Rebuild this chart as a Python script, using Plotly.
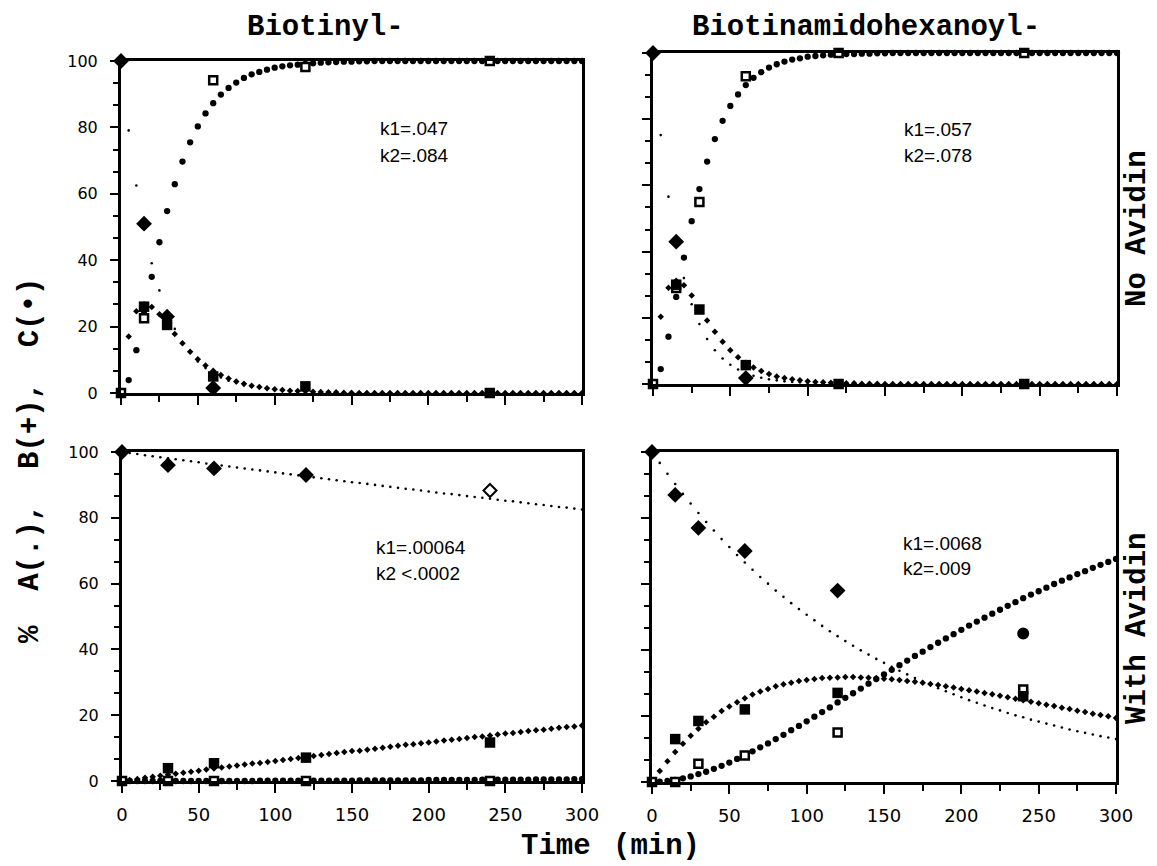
import plotly.graph_objects as go
from plotly.subplots import make_subplots

# ---------------- data ----------------
T = [0, 5, 10, 15, 20, 25, 30, 35, 40, 45, 50, 55, 60, 65, 70, 75, 80, 85, 90, 95,
     100, 105, 110, 115, 120, 125, 130, 135, 140, 145, 150, 155, 160, 165, 170, 175, 180, 185, 190, 195,
     200, 205, 210, 215, 220, 225, 230, 235, 240, 245, 250, 255, 260, 265, 270, 275, 280, 285, 290, 295, 300]

# Biotinyl-, No Avidin (fitted curves)
TL_A = [100, 79.1, 62.5, 49.4, 39.1, 30.9, 24.4, 19.3, 15.3, 12.1, 9.5, 7.5, 6.0, 4.7, 3.7, 3.0, 2.3, 1.8, 1.5, 1.2,
        0.9, 0.7, 0.6, 0.5, 0.4, 0.3, 0.2, 0.2, 0.1, 0.1, 0.1, 0, 0, 0, 0, 0, 0, 0, 0, 0,
        0, 0, 0, 0, 0, 0, 0, 0, 0, 0, 0, 0, 0, 0, 0, 0, 0, 0, 0, 0, 0]
TL_B = [0, 17.0, 24.6, 26.7, 25.9, 23.7, 20.8, 17.8, 15.0, 12.4, 10.2, 8.3, 6.7, 5.4, 4.4, 3.5, 2.8, 2.2, 1.8, 1.4,
        1.1, 0.9, 0.7, 0.6, 0.5, 0.4, 0.3, 0.2, 0.2, 0.1, 0.1, 0, 0, 0, 0, 0, 0, 0, 0, 0,
        0, 0, 0, 0, 0, 0, 0, 0, 0, 0, 0, 0, 0, 0, 0, 0, 0, 0, 0, 0, 0]
TL_C = [0, 3.9, 12.9, 23.9, 35.0, 45.4, 54.8, 62.9, 69.7, 75.5, 80.3, 84.2, 87.3, 89.9, 91.9, 93.5, 94.9, 96.0, 96.7, 97.4,
        98.0, 98.4, 98.7, 98.9, 99.1, 99.3, 99.5, 99.6, 99.7, 99.8, 99.8, 99.9, 99.9, 100, 100, 100, 100, 100, 100, 100,
        100, 100, 100, 100, 100, 100, 100, 100, 100, 100, 100, 100, 100, 100, 100, 100, 100, 100, 100, 100, 100]

# Biotinamidohexanoyl-, No Avidin
TR_A = [100, 75.2, 56.6, 42.5, 32.0, 24.1, 18.1, 13.6, 10.2, 7.7, 5.8, 4.4, 3.3, 2.5, 1.9, 1.4, 1.1, 0.8, 0.6, 0.5,
        0.3, 0.3, 0.2, 0.1, 0.1, 0.1, 0.1, 0, 0, 0, 0, 0, 0, 0, 0, 0, 0, 0, 0, 0,
        0, 0, 0, 0, 0, 0, 0, 0, 0, 0, 0, 0, 0, 0, 0, 0, 0, 0, 0, 0, 0]
TR_B = [0, 20.3, 29.1, 31.2, 29.8, 26.7, 23.0, 19.2, 15.8, 12.8, 10.2, 8.1, 6.4, 5.0, 3.9, 3.0, 2.3, 1.8, 1.4, 1.1,
        0.8, 0.6, 0.5, 0.4, 0.3, 0.2, 0.2, 0.1, 0.1, 0.1, 0, 0, 0, 0, 0, 0, 0, 0, 0, 0,
        0, 0, 0, 0, 0, 0, 0, 0, 0, 0, 0, 0, 0, 0, 0, 0, 0, 0, 0, 0, 0]
TR_C = [0, 4.5, 14.3, 26.3, 38.2, 49.2, 58.9, 67.2, 74.0, 79.5, 84.0, 87.5, 90.3, 92.5, 94.2, 95.6, 96.6, 97.4, 98.0, 98.4,
        98.9, 99.1, 99.3, 99.5, 99.6, 99.7, 99.7, 99.8, 99.8, 99.9, 99.9, 100, 100, 100, 100, 100, 100, 100, 100, 100,
        100, 100, 100, 100, 100, 100, 100, 100, 100, 100, 100, 100, 100, 100, 100, 100, 100, 100, 100, 100, 100]

# Biotinyl-, With Avidin
BL_A = [100.0, 99.7, 99.4, 99.0, 98.7, 98.4, 98.1, 97.8, 97.5, 97.2, 96.9, 96.5, 96.2, 95.9, 95.6, 95.3, 95.0, 94.7, 94.4, 94.1,
        93.8, 93.5, 93.2, 92.9, 92.6, 92.3, 92.0, 91.7, 91.4, 91.1, 90.8, 90.6, 90.3, 90.0, 89.7, 89.4, 89.1, 88.8, 88.6, 88.3,
        88.0, 87.7, 87.4, 87.2, 86.9, 86.6, 86.3, 86.1, 85.8, 85.5, 85.2, 85.0, 84.7, 84.4, 84.1, 83.9, 83.6, 83.3, 83.1, 82.8, 82.5]
BL_B = [0, 0.3, 0.6, 1.0, 1.3, 1.6, 1.9, 2.2, 2.5, 2.8, 3.1, 3.5, 3.8, 4.1, 4.4, 4.7, 5.0, 5.3, 5.5, 5.8,
        6.1, 6.4, 6.7, 7.0, 7.3, 7.6, 7.9, 8.2, 8.5, 8.8, 9.1, 9.2, 9.5, 9.8, 10.1, 10.4, 10.7, 11.0, 11.2, 11.5,
        11.7, 12.0, 12.3, 12.5, 12.8, 13.1, 13.4, 13.5, 13.8, 14.1, 14.4, 14.6, 14.9, 15.2, 15.4, 15.6, 15.9, 16.2, 16.4, 16.6, 16.9]
BL_C = [0, 0, 0, 0, 0, 0, 0, 0, 0, 0, 0, 0, 0, 0, 0, 0, 0, 0, 0.1, 0.1,
        0.1, 0.1, 0.1, 0.1, 0.1, 0.1, 0.1, 0.1, 0.1, 0.1, 0.1, 0.2, 0.2, 0.2, 0.2, 0.2, 0.2, 0.2, 0.2, 0.2,
        0.3, 0.3, 0.3, 0.3, 0.3, 0.3, 0.3, 0.4, 0.4, 0.4, 0.4, 0.4, 0.4, 0.4, 0.5, 0.5, 0.5, 0.5, 0.5, 0.6, 0.6]

# Biotinamidohexanoyl-, With Avidin
BR_A = [100, 96.7, 93.4, 90.3, 87.3, 84.4, 81.5, 78.8, 76.2, 73.6, 71.2, 68.8, 66.5, 64.3, 62.1, 60.1, 58.0, 56.1, 54.2, 52.4,
        50.7, 49.0, 47.3, 45.7, 44.2, 42.7, 41.3, 39.9, 38.6, 37.3, 36.1, 34.9, 33.7, 32.6, 31.5, 30.4, 29.4, 28.4, 27.5, 26.6,
        25.7, 24.8, 24.0, 23.2, 22.4, 21.7, 20.9, 20.2, 19.6, 18.9, 18.3, 17.7, 17.1, 16.5, 15.9, 15.4, 14.9, 14.4, 13.9, 13.5, 13.0]
BR_B = [0, 3.3, 6.3, 9.1, 11.6, 14.0, 16.1, 18.1, 19.8, 21.5, 22.9, 24.2, 25.4, 26.5, 27.4, 28.2, 29.0, 29.6, 30.1, 30.6,
        30.9, 31.2, 31.5, 31.6, 31.7, 31.8, 31.8, 31.7, 31.6, 31.5, 31.3, 31.1, 30.9, 30.6, 30.4, 30.1, 29.7, 29.4, 29.0, 28.6,
        28.2, 27.8, 27.4, 27.0, 26.6, 26.1, 25.7, 25.2, 24.8, 24.3, 23.9, 23.4, 23.0, 22.5, 22.1, 21.6, 21.2, 20.7, 20.3, 19.9, 19.4]
BR_C = [0, 0.1, 0.3, 0.6, 1.1, 1.7, 2.4, 3.1, 4.0, 4.9, 5.9, 7.0, 8.1, 9.3, 10.5, 11.7, 13.0, 14.3, 15.7, 17.0,
        18.4, 19.8, 21.2, 22.6, 24.1, 25.5, 26.9, 28.3, 29.8, 31.2, 32.6, 34.0, 35.4, 36.8, 38.2, 39.5, 40.9, 42.2, 43.5, 44.8,
        46.1, 47.4, 48.6, 49.8, 51.0, 52.2, 53.4, 54.5, 55.7, 56.8, 57.8, 58.9, 60.0, 61.0, 62.0, 63.0, 63.9, 64.9, 65.8, 66.7, 67.6]

# measured points
TL_dA_t = [0, 15, 30, 60];            TL_dA = [100, 51, 23, 1.5]
TL_dB_t = [15, 30, 60, 120, 240];     TL_dB = [26, 20.5, 5, 2, 0]
TL_dC_t = [0, 15, 60, 120, 240];      TL_dC = [0, 22.5, 94.2, 98.2, 100]

TR_dA_t = [0, 15, 60];                TR_dA = [100, 43, 1.8]
TR_dB_t = [15, 30, 60, 120, 240];     TR_dB = [30, 22.5, 5.7, 0, 0]
TR_dC_t = [0, 15, 30, 60, 120, 240];  TR_dC = [0, 29, 55, 93, 100, 100]

BL_dA_t = [0, 30, 60, 120, 240];      BL_dA = [100, 96, 95, 93, 88.3]
BL_dB_t = [30, 60, 120, 240];         BL_dB = [3.9, 5.4, 7.1, 11.7]
BL_dC_t = [0, 30, 60, 120, 240];      BL_dC = [0, 0, 0, 0, 0]

BR_dA_t = [0, 15, 30, 60, 120, 240];  BR_dA = [100, 87, 77, 70, 58, 45]
BR_dB_t = [15, 30, 60, 120, 240];     BR_dB = [13, 18.5, 22, 27, 26]
BR_dC_t = [0, 15, 30, 60, 120, 240];  BR_dC = [0, 0, 5.5, 8, 15, 28]

X_TICKS = [0, 50, 100, 150, 200, 250, 300]
X_TICKTEXT = ["0", "50", "100", "150", "200", "250", "300"]
Y_TICKS = [0, 20, 40, 60, 80, 100]
Y_TICKTEXT = ["0", "20", "40", "60", "80", "100"]

COL_TITLES = ["Biotinyl-", "Biotinamidohexanoyl-"]
ROW_LABELS = ["No Avidin", "With Avidin"]
Y_TITLE = "%\u00a0\u00a0A(.),\u00a0\u00a0B(+),\u00a0\u00a0C(\u2022)"
X_TITLE = ["Time", "(min)"]
RATES = [["k1=.047", "k2=.084"], ["k1=.057", "k2=.078"],
         ["k1=.00064", "k2 <.0002"], ["k1=.0068", "k2=.009"]]

# ---------------- figure ----------------
# The page body keeps an 8px margin, so the figure starts 8px in from the
# window corner; positions below are window pixels.
OFF = 8
W, H = 1157 - OFF, 866 - OFF
def fx(x): return (x - OFF) / W
def fy(y): return 1 - (y - OFF) / H

fig = make_subplots(rows=2, cols=2)

# per-panel style tweaks for a few measured points (index -> symbol / fill)
special_A = {2: {4: ("diamond", "white")}, 3: {5: ("circle", "black")}}

panels = [
    (1, 1, TL_A, TL_B, TL_C, (TL_dA_t, TL_dA), (TL_dB_t, TL_dB), (TL_dC_t, TL_dC)),
    (1, 2, TR_A, TR_B, TR_C, (TR_dA_t, TR_dA), (TR_dB_t, TR_dB), (TR_dC_t, TR_dC)),
    (2, 1, BL_A, BL_B, BL_C, (BL_dA_t, BL_dA), (BL_dB_t, BL_dB), (BL_dC_t, BL_dC)),
    (2, 2, BR_A, BR_B, BR_C, (BR_dA_t, BR_dA), (BR_dB_t, BR_dB), (BR_dC_t, BR_dC)),
]

K = "black"
for p, (r, c, A, B, C, dA, dB, dC) in enumerate(panels):
    fig.add_trace(go.Scatter(x=T, y=A, mode="markers", cliponaxis=False,
                             marker=dict(symbol="circle", size=2.6, color=K)), row=r, col=c)
    fig.add_trace(go.Scatter(x=T, y=B, mode="markers", cliponaxis=False,
                             marker=dict(symbol="diamond", size=5, color=K)), row=r, col=c)
    fig.add_trace(go.Scatter(x=T, y=C, mode="markers", cliponaxis=False,
                             marker=dict(symbol="circle", size=6.3, color=K)), row=r, col=c)
    fig.add_trace(go.Scatter(x=dC[0], y=dC[1], mode="markers", cliponaxis=False,
                             marker=dict(symbol="square", size=8, color="white",
                                         line=dict(width=2.5, color=K))), row=r, col=c)
    fig.add_trace(go.Scatter(x=dB[0], y=dB[1], mode="markers", cliponaxis=False,
                             marker=dict(symbol="square", size=10.5, color=K)), row=r, col=c)
    sym = ["diamond"] * len(dA[0])
    fill = [K] * len(dA[0])
    for idx, (s, f) in special_A.get(p, {}).items():
        sym[idx] = s
        fill[idx] = f
    fig.add_trace(go.Scatter(x=dA[0], y=dA[1], mode="markers", cliponaxis=False,
                             marker=dict(symbol=sym, size=10, color=fill,
                                         line=dict(width=2, color=K))), row=r, col=c)

domains = {
    "xaxis": [121, 582], "yaxis": [393, 61],
    "xaxis2": [653, 1117], "yaxis2": [384, 53],
    "xaxis3": [122, 582], "yaxis3": [781, 452],
    "xaxis4": [652, 1116], "yaxis4": [782, 452],
}

xminor = [25, 75, 125, 175, 225, 275]
yminor = [v for v in [i * 20 / 3 for i in range(16)] if abs(v - round(v / 20) * 20) > 0.5]

for i, name in enumerate(["xaxis", "xaxis2", "xaxis3", "xaxis4"]):
    bottom = i >= 2
    fig.layout[name].update(
        domain=[fx(domains[name][0]), fx(domains[name][1])], range=[0, 300], automargin=False,
        tickmode="array", tickvals=X_TICKS, ticktext=X_TICKTEXT, showticklabels=bottom,
        ticks="outside", ticklen=9, tickwidth=2, tickcolor=K, ticklabelstandoff=6,
        minor=dict(ticks="outside", ticklen=6, tickwidth=2, tickcolor=K, tickmode="array", tickvals=xminor),
        showline=True, mirror=True, linewidth=3, linecolor=K,
        showgrid=False, zeroline=False, tickfont=dict(family="DejaVu Sans", size=18, color=K))

for i, name in enumerate(["yaxis", "yaxis2", "yaxis3", "yaxis4"]):
    left = i in (0, 2)
    fig.layout[name].update(
        domain=[fy(domains[name][0]), fy(domains[name][1])], range=[0, 100], automargin=False,
        tickmode="array", tickvals=Y_TICKS, ticktext=Y_TICKTEXT, showticklabels=left,
        ticks="outside", ticklen=8, tickwidth=2, tickcolor=K, ticklabelstandoff=9,
        minor=dict(ticks="outside", ticklen=5, tickwidth=2, tickcolor=K, tickmode="array", tickvals=yminor),
        showline=True, mirror=True, linewidth=3, linecolor=K,
        showgrid=False, zeroline=False, tickfont=dict(family="DejaVu Sans", size=16, color=K))

mono = dict(family="Liberation Mono", size=29, color=K)
ann = []
ann.append(dict(x=fx(325), y=fy(28), text="<b>%s</b>" % COL_TITLES[0], font=mono))
ann.append(dict(x=fx(866), y=fy(28), text="<b>%s</b>" % COL_TITLES[1], font=mono))
ann.append(dict(x=fx(1137), y=fy(229), text="<b>%s</b>" % ROW_LABELS[0], font=mono, textangle=-90))
ann.append(dict(x=fx(1137), y=fy(629), text="<b>%s</b>" % ROW_LABELS[1], font=mono, textangle=-90))
ann.append(dict(x=fx(30), y=fy(461), text="<b>%s</b>" % Y_TITLE, font=mono, textangle=-90))
ann.append(dict(x=fx(556), y=fy(846), text="<b>%s</b>" % X_TITLE[0], font=mono))
ann.append(dict(x=fx(656), y=fy(846), text="<b>%s</b>" % X_TITLE[1], font=mono))

kfont = dict(family="Liberation Sans", size=19, color=K)
kpos = [(379, 128, 155), (903, 130, 156), (375, 547, 573), (902, 543, 568)]
for (x0, y1, y2), (l1, l2) in zip(kpos, RATES):
    ann.append(dict(x=fx(x0), y=fy(y1), text=l1, font=kfont, xanchor="left"))
    ann.append(dict(x=fx(x0), y=fy(y2), text=l2, font=kfont, xanchor="left"))

for a in ann:
    a.setdefault("xanchor", "center")
    a.setdefault("yanchor", "middle")
    a.update(xref="paper", yref="paper", showarrow=False, borderpad=0)
fig.update_layout(annotations=ann)

fig.update_layout(width=W, height=H, margin=dict(l=0, r=0, t=0, b=0, autoexpand=False),
                  paper_bgcolor="white", plot_bgcolor="white", showlegend=False)

fig.write_html("out.html")
